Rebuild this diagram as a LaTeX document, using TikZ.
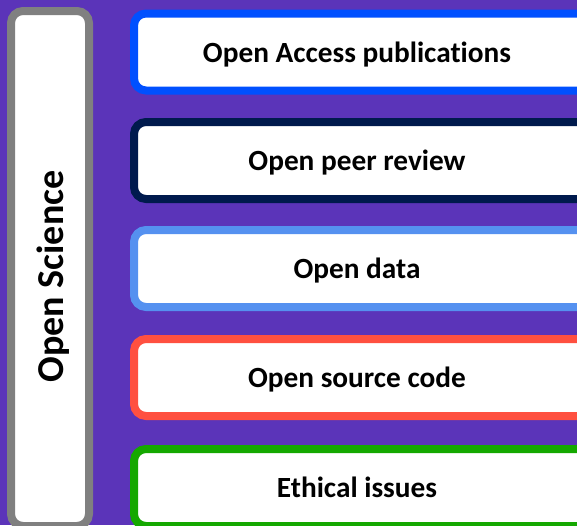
\documentclass[tikz,border=0pt]{standalone}
\usepackage{fontspec}
\setmainfont[Ligatures=NoCommon]{Carlito}
\definecolor{bgpurple}{HTML}{5B34B9}
\definecolor{cblue}{HTML}{0050FF}
\definecolor{cnavy}{HTML}{001A4D}
\definecolor{clight}{HTML}{5591F0}
\definecolor{cred}{HTML}{FF5040}
\definecolor{cgreen}{HTML}{15A800}
\definecolor{cgray}{HTML}{808080}
\newcommand{\itemtext}[1]{\hspace*{-10pt}\raisebox{-10pt}[0pt][0pt]{#1}}
\tikzset{
  itembox/.style={draw, fill=white, line width=8pt, rounded corners=12pt,
    minimum width=456pt, minimum height=77pt, inner sep=0pt,
    font=\bfseries\fontsize{29.3}{31}\selectfont, text=black},
  sidebox/.style={draw=cgray, fill=white, line width=8pt, rounded corners=12pt,
    minimum width=78pt, minimum height=515pt, inner sep=0pt},
}
\begin{document}
\begin{tikzpicture}[x=1pt,y=-1pt]
\useasboundingbox (0,0) rectangle (577,525);
\clip (0,0) rectangle (577,525);
\fill[bgpurple] (0,0) rectangle (577,525);
\node[sidebox] (os) at (50,268.5) {};
\node[rotate=90, font=\bfseries\fontsize{38}{40}\selectfont] (ostext) at (53,276.5) {Open Science};
\node[itembox, draw=cblue] (b1) at (362,52) {\itemtext{Open Access publications}};
\node[itembox, draw=cnavy] (b2) at (362,160.5) {\itemtext{Open peer review}};
\node[itembox, draw=clight] (b3) at (362,268.5) {\itemtext{Open data}};
\node[itembox, draw=cred] (b4) at (362,377.5) {\itemtext{Open source code}};
\node[itembox, draw=cgreen] (b5) at (362,487.5) {\itemtext{Ethical issues}};
\end{tikzpicture}
\end{document}
